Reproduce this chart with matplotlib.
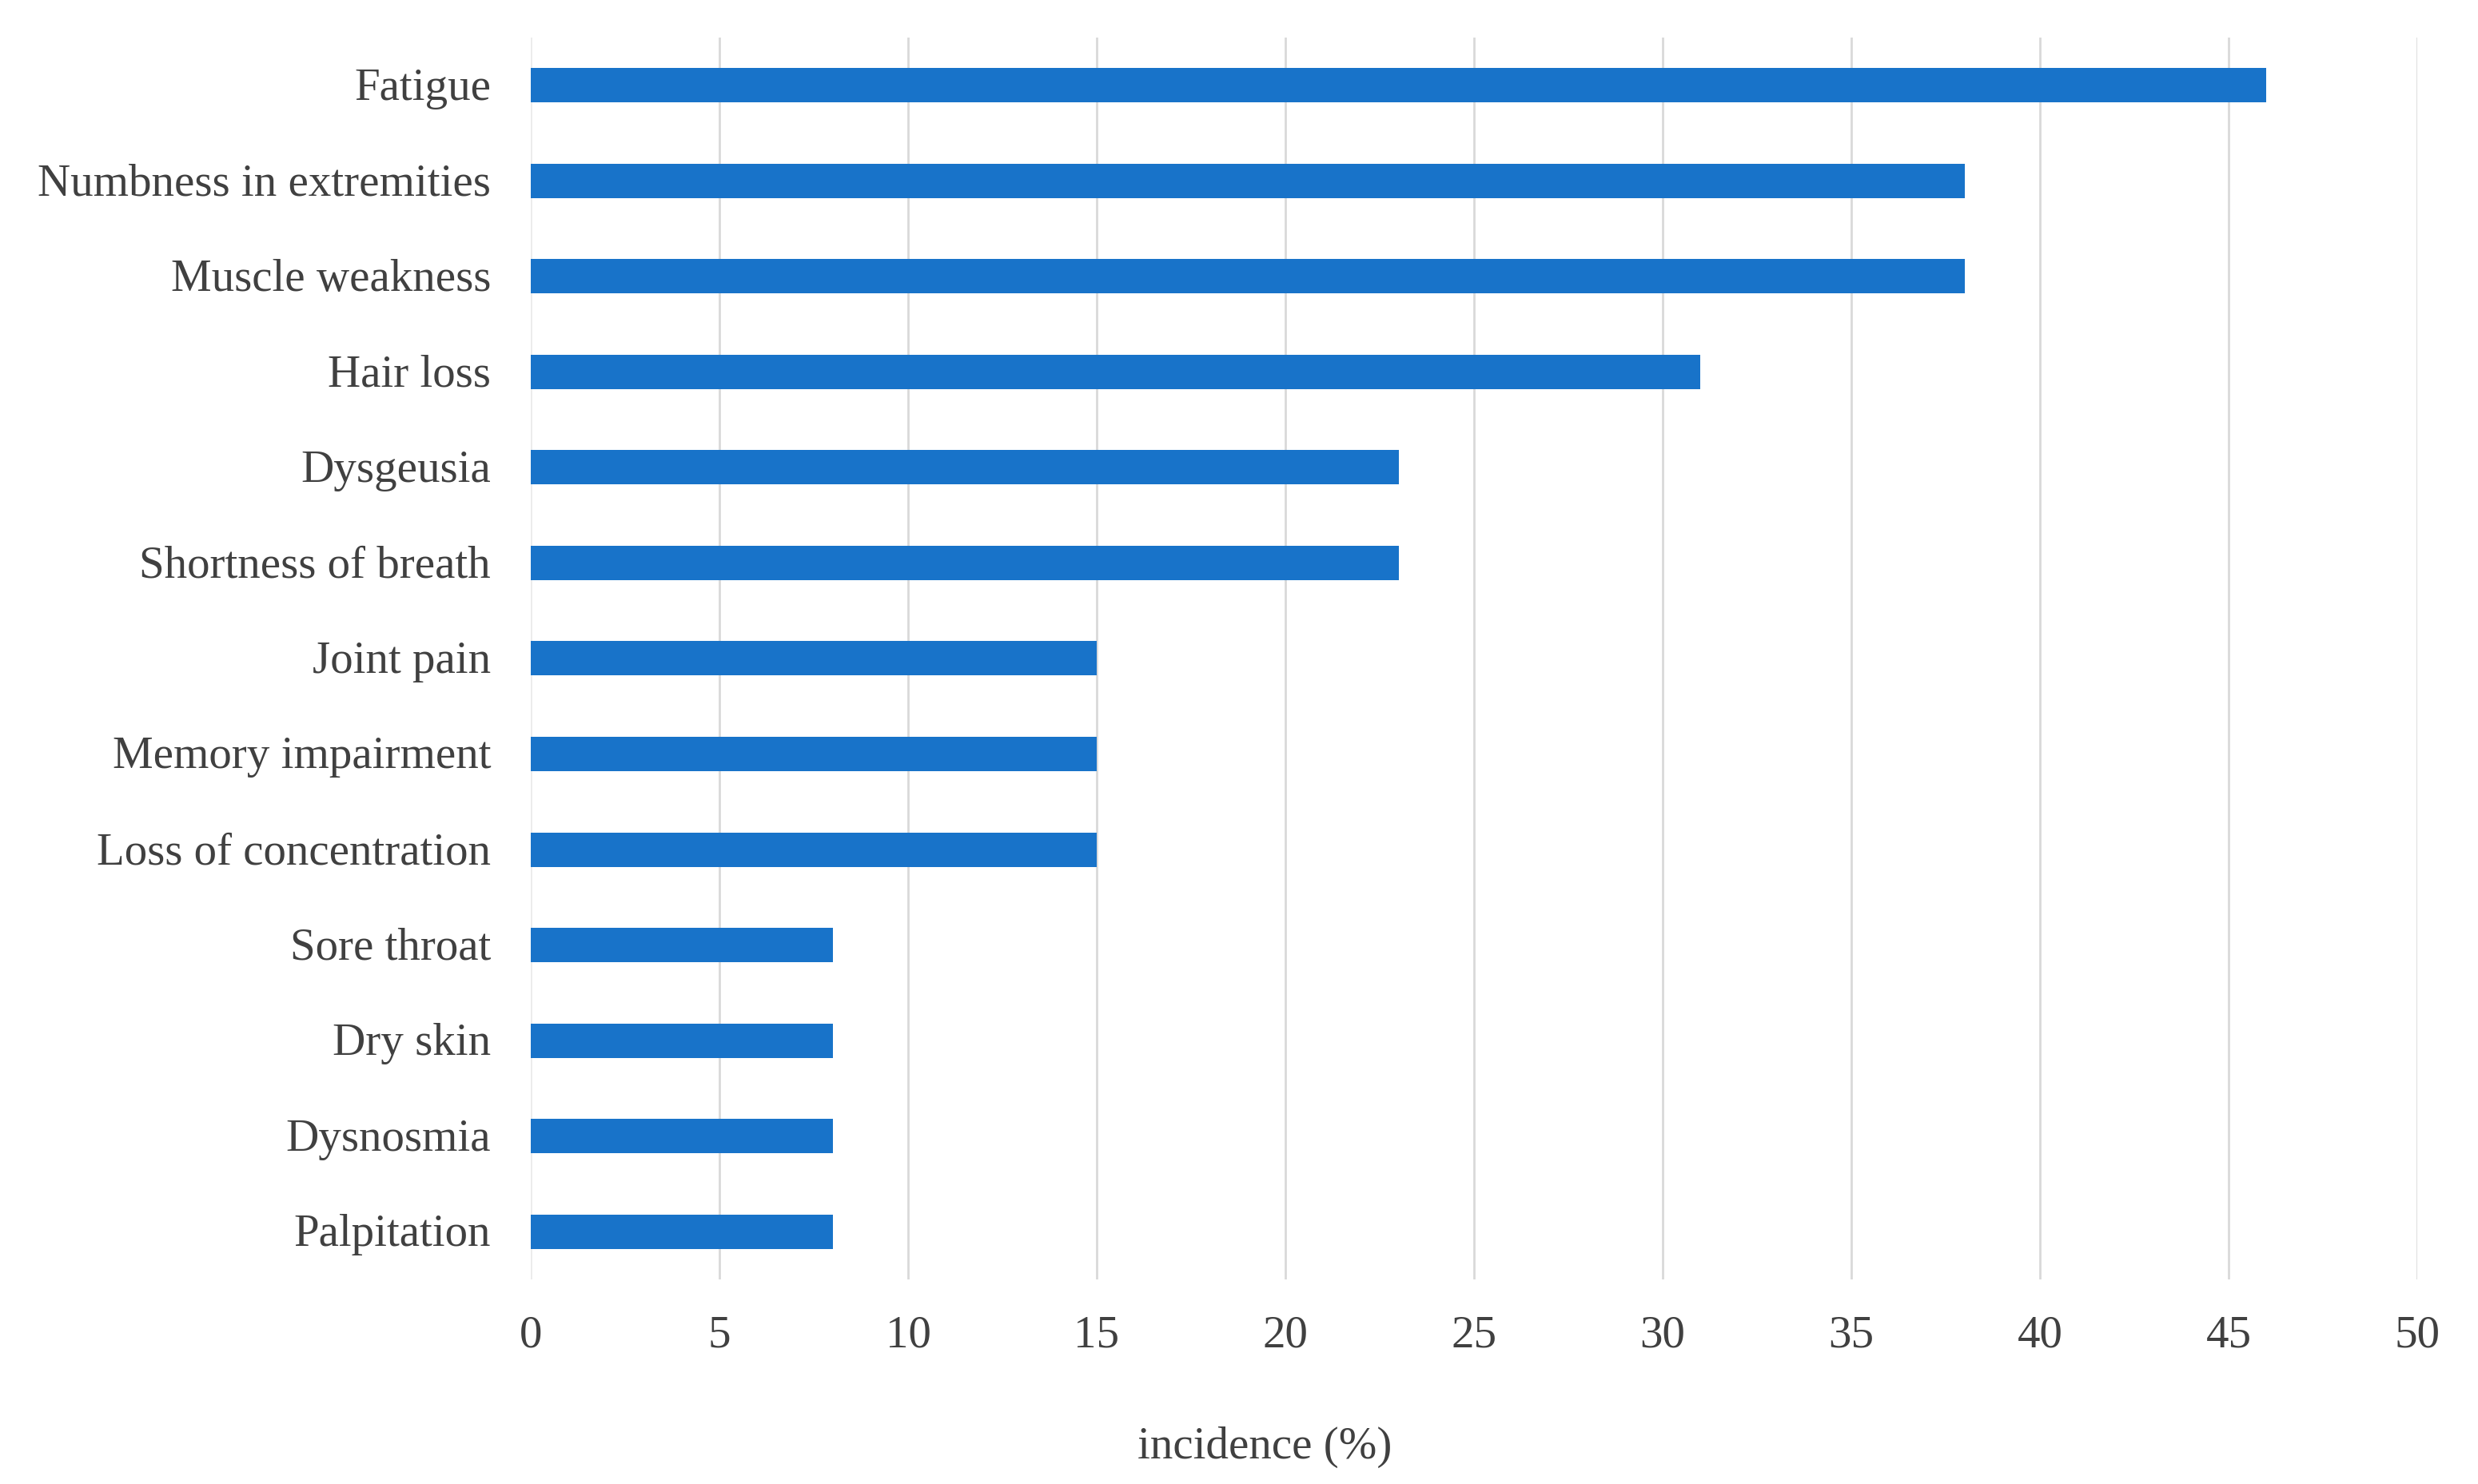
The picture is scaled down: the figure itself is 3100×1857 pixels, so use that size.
import matplotlib
matplotlib.use("Agg")
import matplotlib.pyplot as plt
from matplotlib.transforms import ScaledTranslation

categories = ["Fatigue", "Numbness in extremities", "Muscle weakness", "Hair loss",
              "Dysgeusia", "Shortness of breath", "Joint pain", "Memory impairment",
              "Loss of concentration", "Sore throat", "Dry skin", "Dysnosmia", "Palpitation"]
values = [46, 38, 38, 31, 23, 23, 15, 15, 15, 8, 8, 8, 8]
xticks = [0, 5, 10, 15, 20, 25, 30, 35, 40, 45, 50]
xlabel = "incidence (%)"

plt.rcParams['font.family'] = ['Liberation Serif', 'DejaVu Serif']
text_color = '#404040'

fig = plt.figure(figsize=(31, 18.58), dpi=100)
ax = fig.add_axes([0.2142, 0.1378, 0.7613, 0.8364])

ypos = list(range(len(categories)))
ax.barh(ypos, values, height=0.36, color='#1873C9', zorder=3)
ax.set_ylim(len(categories) - 0.5, -0.5)
ax.set_xlim(0, 50)
ax.set_xticks(xticks)
ax.set_xticklabels([str(t) for t in xticks])
ax.set_yticks(ypos)
ax.set_yticklabels(categories)

for s in ax.spines.values():
    s.set_visible(False)
ax.tick_params(axis='both', length=0, labelsize=41, colors=text_color)
ax.tick_params(axis='x', pad=31)
ax.tick_params(axis='y', pad=36)
offset = ScaledTranslation(0, 0.03, fig.dpi_scale_trans)
for lab in ax.get_yticklabels():
    lab.set_transform(lab.get_transform() + offset)
ax.xaxis.grid(True, color='#d9d9d9', linewidth=2.0, zorder=0)
ax.set_axisbelow(True)
gl = ax.get_xgridlines()
if gl:
    gl[0].set_color('#ebebeb')

fig.text(1582 / 3100, 1 - 1811 / 1858, xlabel, ha='center', va='center',
         fontsize=41, color=text_color)

fig.savefig("out.png", dpi=100, facecolor='white')
